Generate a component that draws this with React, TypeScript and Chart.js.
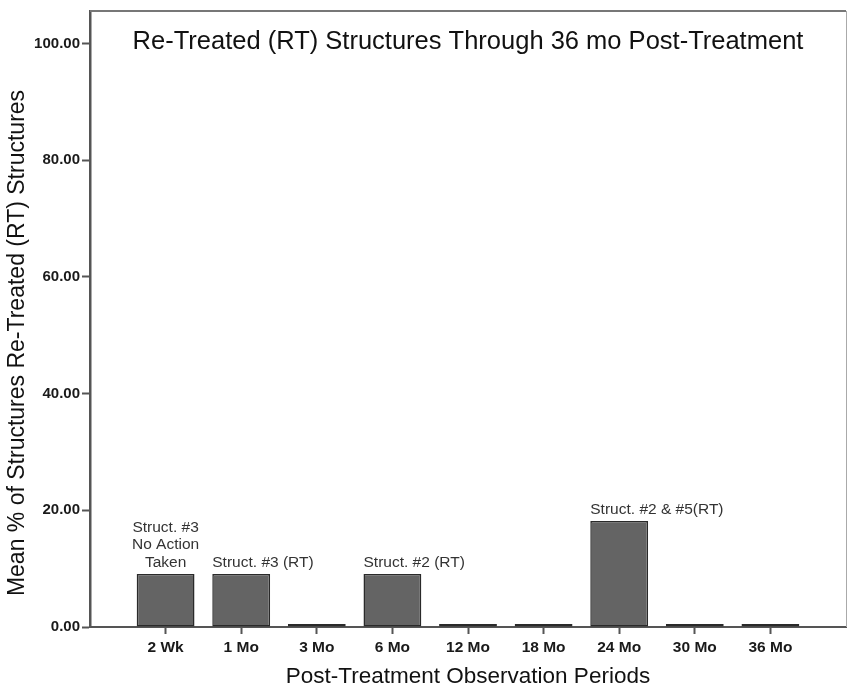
import React, { useEffect, useRef } from 'react';
import { Chart, registerables } from 'chart.js';

Chart.register(...registerables);

const categories = ['2 Wk', '1 Mo', '3 Mo', '6 Mo', '12 Mo', '18 Mo', '24 Mo', '30 Mo', '36 Mo'];
const values = [9.09, 9.09, 0, 9.09, 0, 0, 18.18, 0, 0];
const barNotes: string[][] = [
  ['Struct. #3', 'No Action', 'Taken'],
  ['Struct. #3 (RT)'],
  [],
  ['Struct. #2 (RT)'],
  [],
  [],
  ['Struct. #2 & #5(RT)'],
  [],
  [],
];
const noteAlign = ['center', 'left', 'left', 'left', 'left', 'left', 'left', 'left', 'left'];
const yTicks = [0, 20, 40, 60, 80, 100];
const chartTitle = 'Re-Treated (RT) Structures Through 36 mo Post-Treatment';
const yTitle = 'Mean % of Structures Re-Treated (RT) Structures';
const xTitle = 'Post-Treatment Observation Periods';

const FONT = '"Liberation Sans", Arial, Helvetica, sans-serif';

const textPlugin = {
  id: 'textPlugin',
  afterDatasetsDraw(chart: any) {
    const ctx = chart.ctx;
    const meta = chart.getDatasetMeta(0);
    ctx.save();
    ctx.font = `15.5px ${FONT}`;
    ctx.fillStyle = '#333';
    ctx.textBaseline = 'alphabetic';
    barNotes.forEach((lines, i) => {
      const el = meta.data[i + 1];
      if (!el || !lines.length) return;
      const lh = 17.5;
      const baseY = el.y - 7;
      const align = noteAlign[i];
      ctx.textAlign = align === 'center' ? 'center' : 'left';
      const x = align === 'center' ? el.x : el.x - el.width / 2;
      lines.forEach((line, j) => {
        const y = baseY - (lines.length - 1 - j) * lh;
        ctx.fillText(line, x, y);
      });
    });
    ctx.restore();
  },
  afterDraw(chart: any) {
    const ctx = chart.ctx;
    const a = chart.chartArea;
    ctx.save();
    // frame top & right
    ctx.strokeStyle = '#777';
    ctx.lineWidth = 2;
    ctx.beginPath();
    ctx.moveTo(a.left, a.top);
    ctx.lineTo(a.right, a.top);
    ctx.stroke();
    ctx.strokeStyle = '#aaa';
    ctx.lineWidth = 1;
    ctx.beginPath();
    ctx.moveTo(a.right + 0.5, a.top);
    ctx.lineTo(a.right + 0.5, a.bottom);
    ctx.stroke();
    // chart title
    ctx.fillStyle = '#111';
    ctx.font = `25.5px ${FONT}`;
    ctx.textAlign = 'center';
    ctx.textBaseline = 'middle';
    ctx.fillText(chartTitle, (a.left + a.right) / 2, a.top + 31);
    // y title
    ctx.translate(18, 343);
    ctx.rotate(-Math.PI / 2);
    ctx.font = `23px ${FONT}`;
    ctx.fillText(yTitle, 0, 0);
    ctx.restore();
  },
};

export default function App() {
  const ref = useRef<HTMLCanvasElement>(null);
  useEffect(() => {
    if (!ref.current) return;
    const labels = ['', ...categories, ''];
    const data = [null, ...values, null];
    const chart = new Chart(ref.current, {
      type: 'bar',
      data: {
        labels,
        datasets: [
          {
            data,
            backgroundColor: '#646464',
            borderColor: '#2a2a2a',
            borderWidth: 1.5,
            borderSkipped: false,
            minBarLength: 3,
            categoryPercentage: 1,
            barPercentage: 0.765,
          },
        ],
      },
      options: {
        responsive: false,
        animation: false,
        layout: { padding: { top: 9, right: 2, left: 0, bottom: 0 } },
        plugins: {
          legend: { display: false },
          tooltip: { enabled: false },
          title: { display: false },
        },
        scales: {
          x: {
            type: 'category',
            offset: false,
            grid: {
              offset: false,
              drawOnChartArea: false,
              drawTicks: true,
              tickLength: 7,
              tickWidth: 2,
              tickColor: (c: any) => (c.tick && c.tick.label ? '#555' : 'rgba(0,0,0,0)'),
            },
            border: { color: '#555', width: 2 },
            ticks: {
              autoSkip: false,
              maxRotation: 0,
              padding: 4,
              color: '#1a1a1a',
              font: { family: FONT, size: 15.5, weight: 'bold' },
            },
            title: {
              display: true,
              text: xTitle,
              color: '#111',
              font: { family: FONT, size: 22.5 },
              padding: { top: 0, bottom: 0 },
            },
            afterFit: (s: any) => {
              s.height = 63;
            },
          },
          y: {
            min: 0,
            max: 105.6,
            afterBuildTicks: (s: any) => {
              s.ticks = yTicks.map((v) => ({ value: v }));
            },
            grid: {
              drawOnChartArea: false,
              drawTicks: true,
              tickLength: 8,
              tickWidth: 2,
              tickColor: '#555',
            },
            border: { color: '#555', width: 2.5 },
            ticks: {
              padding: 2,
              color: '#1a1a1a',
              font: { family: FONT, size: 15, weight: 'bold' },
              callback: (v: any) => Number(v).toFixed(2),
            },
            afterFit: (s: any) => {
              s.width = 90;
            },
          },
        },
      },
      plugins: [textPlugin],
    } as any);
    return () => chart.destroy();
  }, []);
  return (
    <div style={{ position: 'absolute', left: 0, top: 0, width: 850, height: 690, background: '#fff' }}>
      <canvas ref={ref} width={850} height={690} />
    </div>
  );
}
